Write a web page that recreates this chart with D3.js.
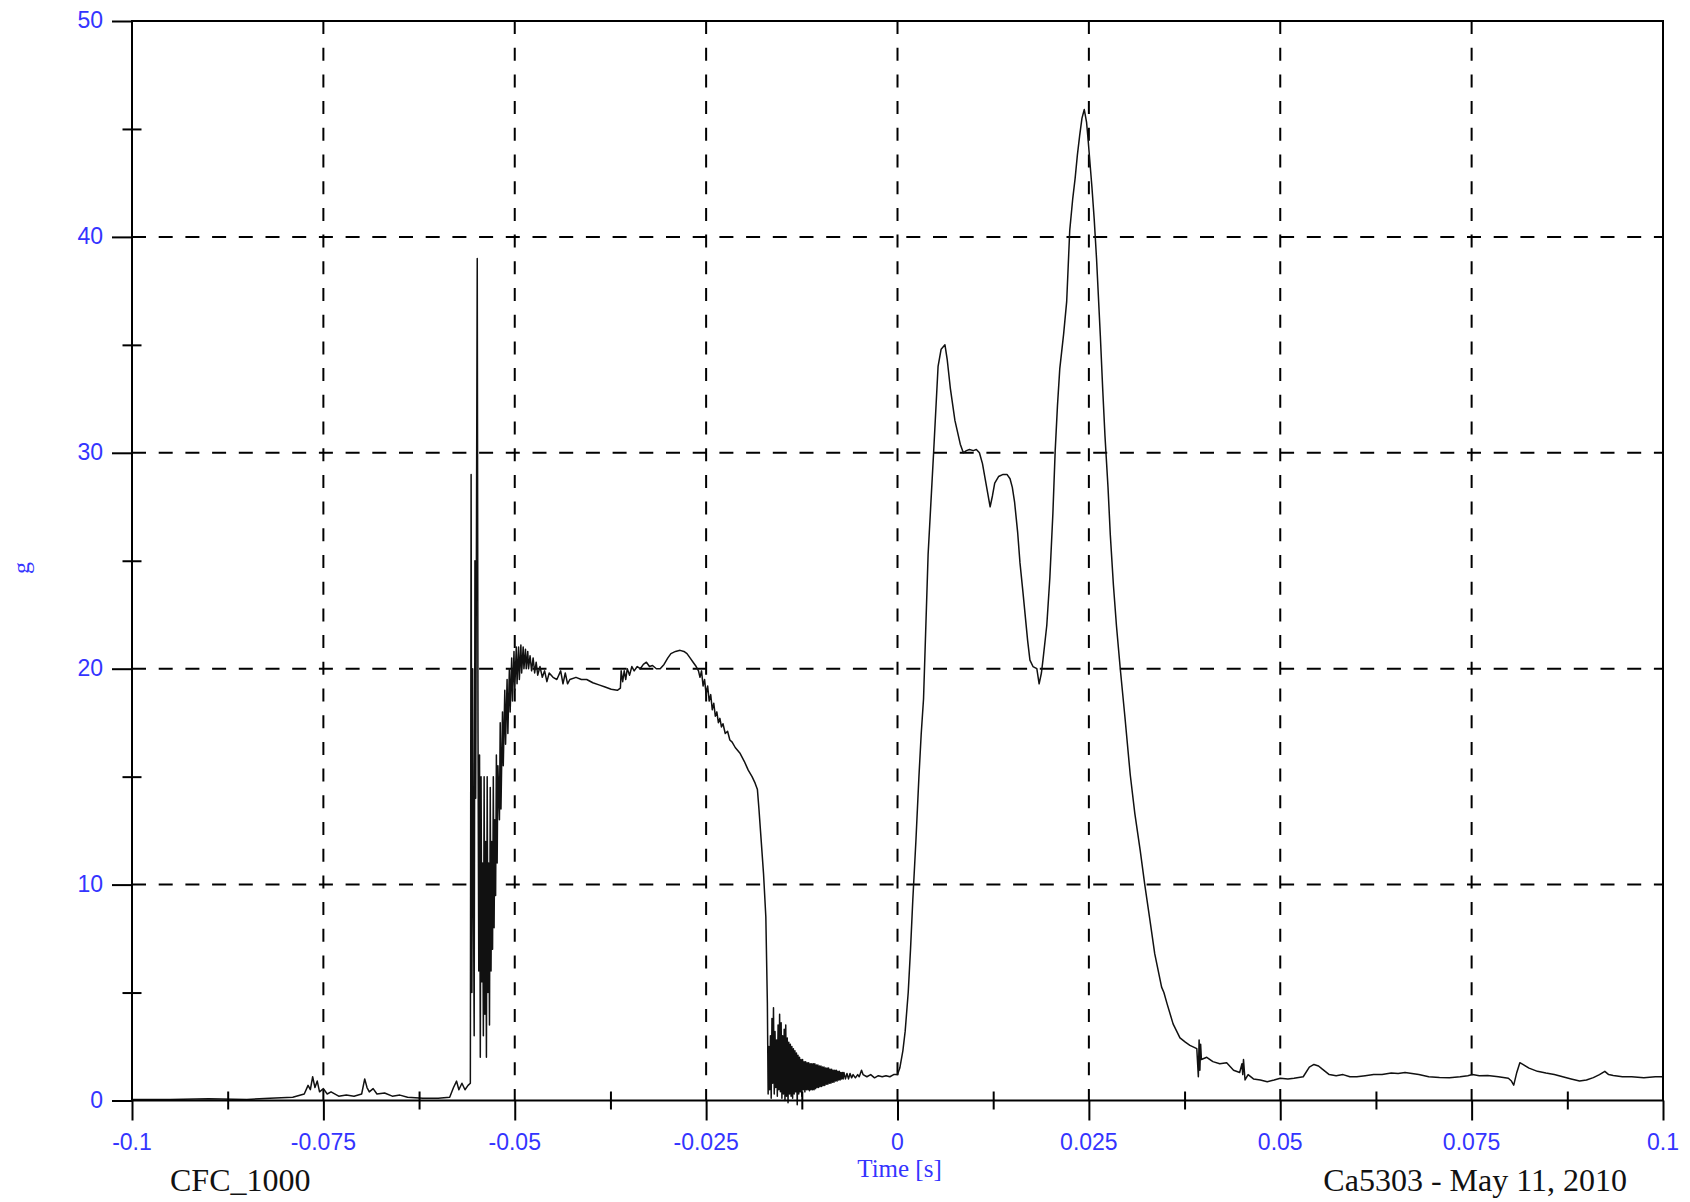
<!DOCTYPE html>
<html>
<head>
<meta charset="utf-8">
<script src="https://cdn.jsdelivr.net/npm/d3@7"></script>
<style>
  html, body { margin: 0; padding: 0; background: #fff; }
  svg { display: block; }
</style>
</head>
<body>
<div id="chart"></div>
<script>
// tick values and labels
var xMajor = [-0.1, -0.075, -0.05, -0.025, 0, 0.025, 0.05, 0.075, 0.1];
var xMajorLabels = ["-0.1", "-0.075", "-0.05", "-0.025", "0", "0.025", "0.05", "0.075", "0.1"];
var xMinor = [-0.0875, -0.0625, -0.0375, -0.0125, 0.0125, 0.0375, 0.0625, 0.0875];
var yMajor = [0, 10, 20, 30, 40, 50];
var yMajorLabels = ["0", "10", "20", "30", "40", "50"];
var yMinor = [5, 15, 25, 35, 45];

// acceleration trace [time s, g] in pieces
var quietStart = [
  [-0.1000, 0.05], [-0.0950, 0.05], [-0.0900, 0.08], [-0.0850, 0.05], [-0.0820, 0.1],
  [-0.0790, 0.15], [-0.0775, 0.3], [-0.0770, 0.7], [-0.0767, 0.5], [-0.0764, 1.1],
  [-0.0761, 0.6], [-0.0758, 0.9], [-0.0755, 0.4], [-0.0750, 0.55], [-0.0745, 0.3],
  [-0.0740, 0.4], [-0.0730, 0.2], [-0.0720, 0.25], [-0.0710, 0.2], [-0.0700, 0.3],
  [-0.0696, 1.0], [-0.0693, 0.6], [-0.0690, 0.4], [-0.0685, 0.55], [-0.0680, 0.3],
  [-0.0670, 0.35], [-0.0660, 0.2], [-0.0650, 0.25], [-0.0640, 0.15], [-0.0620, 0.1],
  [-0.0600, 0.1], [-0.0585, 0.15], [-0.0580, 0.6], [-0.0576, 0.9], [-0.0573, 0.5],
  [-0.0569, 0.8], [-0.0565, 0.5], [-0.0561, 0.7], [-0.0558, 0.8]
];

var spikeBurst = [
  [-0.0557, 29.0], [-0.0556, 5.0], [-0.0555, 20.0], [-0.0554, 10.0], [-0.0553, 3.0],
  [-0.0552, 25.0], [-0.0551, 14.0], [-0.0549, 39.0], [-0.0548, 17.0], [-0.0547, 6.0],
  [-0.0546, 16.0], [-0.0545, 2.0], [-0.0544, 15.0], [-0.0543, 5.5], [-0.0542, 11.0],
  [-0.0541, 3.0], [-0.0540, 15.0], [-0.0539, 4.0], [-0.0538, 12.0], [-0.0537, 2.0],
  [-0.0536, 15.0], [-0.0535, 5.0], [-0.0534, 11.0], [-0.0533, 3.5], [-0.0532, 14.5],
  [-0.0531, 6.0], [-0.0530, 12.0], [-0.0529, 7.0], [-0.0528, 15.0], [-0.0527, 8.0],
  [-0.0526, 13.0], [-0.0525, 9.5], [-0.0524, 16.0], [-0.0523, 11.0], [-0.0522, 15.5],
  [-0.0520, 13.0], [-0.0519, 17.5], [-0.0518, 13.5], [-0.0516, 18.0], [-0.0515, 15.5],
  [-0.0513, 19.0], [-0.0512, 16.5], [-0.0510, 19.5], [-0.0509, 17.0], [-0.0507, 20.0],
  [-0.0506, 18.0], [-0.0504, 20.5], [-0.0503, 18.5], [-0.0501, 20.8], [-0.0500, 19.0],
  [-0.0498, 21.0], [-0.0497, 19.3], [-0.0495, 21.0], [-0.0494, 19.5], [-0.0492, 21.1],
  [-0.0491, 19.8], [-0.0489, 21.0], [-0.0488, 20.0], [-0.0486, 20.9], [-0.0485, 20.0],
  [-0.0483, 20.8], [-0.0482, 20.0], [-0.0480, 20.6], [-0.0478, 19.9], [-0.0476, 20.5],
  [-0.0474, 19.8], [-0.0472, 20.3], [-0.0470, 19.7], [-0.0467, 20.1], [-0.0464, 19.6],
  [-0.0461, 19.9], [-0.0458, 19.4], [-0.0455, 19.8], [-0.0450, 19.6], [-0.0445, 19.5]
];

var plateau = [
  [-0.0440, 19.9], [-0.0437, 19.3], [-0.0434, 19.8], [-0.0431, 19.3], [-0.0428, 19.5],
  [-0.0420, 19.6], [-0.0413, 19.5], [-0.0406, 19.5], [-0.0398, 19.35], [-0.0390, 19.25],
  [-0.0382, 19.15], [-0.0374, 19.05], [-0.0366, 19.0], [-0.0362, 19.1], [-0.0361, 19.9],
  [-0.0359, 19.4], [-0.0357, 19.9], [-0.0355, 19.5], [-0.0353, 20.0], [-0.0350, 19.7],
  [-0.0347, 20.1], [-0.0344, 19.9], [-0.0340, 20.1], [-0.0336, 20.0], [-0.0332, 20.2],
  [-0.0328, 20.3], [-0.0324, 20.1], [-0.0320, 20.15], [-0.0315, 20.0], [-0.0310, 20.0],
  [-0.0305, 20.2], [-0.0300, 20.5], [-0.0296, 20.7], [-0.0290, 20.8], [-0.0284, 20.85],
  [-0.0279, 20.8], [-0.0275, 20.7], [-0.0271, 20.5], [-0.0267, 20.3], [-0.0263, 20.1],
  [-0.0260, 19.9], [-0.0258, 19.6], [-0.0256, 19.9], [-0.0254, 19.2], [-0.0252, 19.5],
  [-0.0250, 18.8], [-0.0248, 19.2], [-0.0246, 18.5], [-0.0244, 18.8], [-0.0242, 18.1],
  [-0.0240, 18.4], [-0.0238, 17.8], [-0.0236, 18.0], [-0.0234, 17.5], [-0.0232, 17.7],
  [-0.0230, 17.3], [-0.0228, 17.45], [-0.0225, 17.0], [-0.0222, 17.1], [-0.0219, 16.7],
  [-0.0216, 16.6], [-0.0212, 16.35], [-0.0206, 16.1], [-0.0200, 15.7], [-0.0195, 15.3],
  [-0.0190, 15.0], [-0.0186, 14.7], [-0.0183, 14.4], [-0.0181, 13.5], [-0.0178, 12.0],
  [-0.0175, 10.5], [-0.0172, 8.5], [-0.0170, 4.5]
];

var ringDown = [
  [-0.0169, 0.3], [-0.0168, 2.5], [-0.0167, 0.5], [-0.0166, 3.0], [-0.0165, 0.1],
  [-0.0164, 3.8], [-0.0163, 0.8], [-0.0162, 4.3], [-0.0161, 0.3], [-0.0160, 3.2],
  [-0.0159, 0.6], [-0.0158, 2.8], [-0.0157, 0.2], [-0.0156, 3.5], [-0.0155, 0.5],
  [-0.0154, 4.0], [-0.0153, 0.4], [-0.0152, 3.6], [-0.0151, 0.1], [-0.0150, 3.0],
  [-0.0149, 0.3], [-0.0148, 3.3], [-0.0147, 0.0], [-0.0146, 3.5], [-0.0145, 0.2],
  [-0.0144, 2.9], [-0.0143, -0.1], [-0.0142, 2.7], [-0.0141, 0.3], [-0.0140, 2.6],
  [-0.0139, 0.2], [-0.0138, 2.5], [-0.0137, 0.1], [-0.0136, 2.4], [-0.0135, 0.3],
  [-0.0134, 2.3], [-0.0133, 0.4], [-0.0132, 2.2], [-0.0131, -0.2], [-0.0130, 2.1],
  [-0.0129, 0.3], [-0.0128, 2.0], [-0.0127, 0.4], [-0.0126, 1.9], [-0.0125, 0.2],
  [-0.0124, 1.9], [-0.0123, 0.5], [-0.0122, 1.8], [-0.0121, 0.4], [-0.0120, 1.8],
  [-0.0119, 0.5], [-0.0118, 1.75], [-0.0117, 0.5], [-0.0116, 1.75], [-0.0115, 0.45],
  [-0.0114, 1.7], [-0.0113, 0.5], [-0.0112, 1.7], [-0.0111, 0.5], [-0.0110, 1.7],
  [-0.0109, 0.5], [-0.0108, 1.7], [-0.0107, 0.55], [-0.0106, 1.65], [-0.0105, 0.6],
  [-0.0104, 1.65], [-0.0103, 0.6], [-0.0102, 1.6], [-0.0101, 0.65], [-0.0100, 1.6],
  [-0.0099, 0.65], [-0.0098, 1.55], [-0.0097, 0.7], [-0.0096, 1.55], [-0.0095, 0.7],
  [-0.0094, 1.5], [-0.0093, 0.75], [-0.0092, 1.5], [-0.0091, 0.75], [-0.0090, 1.5],
  [-0.0089, 0.8], [-0.0088, 1.45], [-0.0087, 0.8], [-0.0086, 1.45], [-0.0085, 0.85],
  [-0.0084, 1.4], [-0.0083, 0.85], [-0.0082, 1.4], [-0.0081, 0.9], [-0.0080, 1.4],
  [-0.0079, 0.9], [-0.0078, 1.35], [-0.0077, 0.95], [-0.0076, 1.35], [-0.0075, 0.95],
  [-0.0074, 1.3], [-0.0073, 1.0], [-0.0072, 1.3], [-0.0071, 1.0], [-0.0070, 1.3],
  [-0.0068, 1.0], [-0.0066, 1.25], [-0.0064, 1.0], [-0.0062, 1.25], [-0.0060, 1.05],
  [-0.0058, 1.2], [-0.0055, 1.05], [-0.0052, 1.2], [-0.0050, 1.1], [-0.0047, 1.4],
  [-0.0045, 1.2], [-0.0040, 1.1], [-0.0035, 1.2], [-0.0030, 1.05], [-0.0025, 1.15],
  [-0.0020, 1.1], [-0.0015, 1.15], [-0.0010, 1.1], [-0.0005, 1.2]
];

var mainPulse = [
  [0.0000, 1.2], [0.0003, 1.5], [0.0007, 2.3], [0.0010, 3.2], [0.0014, 5.0],
  [0.0017, 7.0], [0.0020, 9.3], [0.0024, 12.0], [0.0028, 15.0], [0.0031, 17.0],
  [0.0034, 18.6], [0.0040, 25.3], [0.0047, 29.9], [0.0053, 34.0], [0.0057, 34.8],
  [0.0062, 35.0], [0.0065, 34.3], [0.0069, 33.0], [0.0075, 31.5], [0.0082, 30.4],
  [0.0086, 30.0], [0.0090, 30.1], [0.0094, 30.15], [0.0099, 30.1], [0.0103, 30.15],
  [0.0107, 30.0], [0.0111, 29.5], [0.0114, 28.9], [0.0118, 28.1], [0.0121, 27.5],
  [0.0124, 28.0], [0.0127, 28.6], [0.0132, 28.9], [0.0138, 29.0], [0.0143, 29.0],
  [0.0147, 28.8], [0.0150, 28.4], [0.0153, 27.7], [0.0157, 26.3], [0.0160, 24.9],
  [0.0164, 23.5], [0.0167, 22.4], [0.0170, 21.3], [0.0173, 20.4], [0.0177, 20.1],
  [0.0182, 20.0], [0.0185, 19.3], [0.0188, 19.8], [0.0190, 20.4], [0.0195, 22.0],
  [0.0199, 24.2], [0.0203, 27.2], [0.0206, 30.1], [0.0209, 32.2], [0.0212, 33.9],
  [0.0217, 35.5], [0.0221, 37.0], [0.0225, 40.3], [0.0229, 41.8], [0.0232, 42.7],
  [0.0235, 43.8], [0.0238, 44.7], [0.0241, 45.5], [0.0244, 45.9], [0.0247, 45.3],
  [0.0249, 44.5], [0.0254, 42.3], [0.0257, 40.8], [0.0260, 39.0], [0.0265, 35.4],
  [0.0268, 33.0], [0.0271, 30.8], [0.0275, 28.4], [0.0278, 26.2], [0.0282, 23.9],
  [0.0286, 22.0], [0.0291, 20.0], [0.0297, 17.8], [0.0304, 15.1], [0.0310, 13.3],
  [0.0317, 11.6], [0.0323, 10.0], [0.0330, 8.3], [0.0336, 6.8], [0.0345, 5.25],
  [0.0348, 5.0], [0.0352, 4.5], [0.0360, 3.55], [0.0369, 2.9], [0.0376, 2.7],
  [0.0382, 2.55], [0.0391, 2.4]
];

var tail = [
  [0.0393, 1.1], [0.0394, 2.8], [0.0395, 1.4], [0.0396, 2.6], [0.0397, 1.9],
  [0.0404, 2.0], [0.0412, 1.8], [0.0421, 1.7], [0.0430, 1.75], [0.0439, 1.4],
  [0.0447, 1.3], [0.0450, 1.7], [0.0451, 1.2], [0.0452, 1.9], [0.0454, 0.95],
  [0.0458, 1.2], [0.0465, 1.0], [0.0474, 0.95], [0.0483, 0.87], [0.0492, 0.95],
  [0.0500, 1.03], [0.0510, 1.0], [0.0518, 1.03], [0.0530, 1.1], [0.0538, 1.55],
  [0.0544, 1.67], [0.0550, 1.6], [0.0555, 1.45], [0.0564, 1.2], [0.0573, 1.15],
  [0.0582, 1.2], [0.0591, 1.1], [0.0600, 1.1], [0.0611, 1.15], [0.0622, 1.2],
  [0.0633, 1.2], [0.0645, 1.27], [0.0654, 1.25], [0.0663, 1.3], [0.0672, 1.25],
  [0.0681, 1.2], [0.0694, 1.1], [0.0708, 1.06], [0.0721, 1.05], [0.0735, 1.1],
  [0.0745, 1.15], [0.0751, 1.2], [0.0760, 1.15], [0.0771, 1.16], [0.0785, 1.1],
  [0.0798, 1.03], [0.0802, 0.9], [0.0805, 0.71], [0.0809, 1.3], [0.0813, 1.75],
  [0.0818, 1.65], [0.0825, 1.5], [0.0836, 1.35], [0.0847, 1.27], [0.0858, 1.2],
  [0.0869, 1.1], [0.0880, 1.0], [0.0891, 0.9], [0.0900, 0.95], [0.0909, 1.06],
  [0.0917, 1.2], [0.0924, 1.35], [0.0929, 1.2], [0.0935, 1.16], [0.0947, 1.1],
  [0.0959, 1.1], [0.0975, 1.05], [0.0990, 1.1], [0.1000, 1.1]
];

var footLeft = "CFC_1000";
var footRight = "Ca5303 - May 11, 2010";
var xTitle = "Time [s]";
var yTitle = "g";

var width = 1690, height = 1202;
var plot = {left: 132, right: 1663, top: 21, bottom: 1100.5};
var tickBlue = "#3434ff";

var svg = d3.select("#chart")
    .append("svg")
    .attr("width", width)
    .attr("height", height);

var x = d3.scaleLinear().domain([-0.1, 0.1]).range([plot.left, plot.right]);
var y = d3.scaleLinear().domain([0, 50]).range([plot.bottom, plot.top]);

// dashed grid
svg.append("g")
  .selectAll("line")
  .data(yMajor.filter(function(v) { return v > 0 && v < 50; }))
  .enter().append("line")
    .attr("x1", plot.left).attr("x2", plot.right)
    .attr("y1", function(d) { return y(d); })
    .attr("y2", function(d) { return y(d); })
    .attr("stroke", "#000")
    .attr("stroke-width", 2)
    .attr("stroke-dasharray", "14,12.7");

svg.append("g")
  .selectAll("line")
  .data(xMajor.filter(function(v) { return v > -0.1 && v < 0.1; }))
  .enter().append("line")
    .attr("x1", function(d) { return x(d); })
    .attr("x2", function(d) { return x(d); })
    .attr("y1", plot.top).attr("y2", plot.bottom)
    .attr("stroke", "#000")
    .attr("stroke-width", 2)
    .attr("stroke-dasharray", "13,13.7");

// the trace
var trace = quietStart.concat(spikeBurst, plateau, ringDown, mainPulse, tail);

svg.append("clipPath").attr("id", "clip")
  .append("rect")
    .attr("x", plot.left).attr("y", plot.top)
    .attr("width", plot.right - plot.left)
    .attr("height", plot.bottom - plot.top + 8);

var line = d3.line()
    .x(function(d) { return x(d[0]); })
    .y(function(d) { return y(d[1]); });

svg.append("path")
    .datum(trace)
    .attr("clip-path", "url(#clip)")
    .attr("fill", "none")
    .attr("stroke", "#111")
    .attr("stroke-width", 1.5)
    .attr("stroke-linejoin", "round")
    .attr("d", line);

// frame
svg.append("rect")
    .attr("x", plot.left).attr("y", plot.top)
    .attr("width", plot.right - plot.left)
    .attr("height", plot.bottom - plot.top)
    .attr("fill", "none")
    .attr("stroke", "#000")
    .attr("stroke-width", 2);

// ticks through d3 axes (no domain path, no labels)
function ticksOnly(g) {
  g.select(".domain").remove();
  g.selectAll("text").remove();
  g.selectAll("line").attr("stroke", "#000").attr("stroke-width", 2);
}

svg.append("g")
  .attr("transform", "translate(0," + plot.bottom + ")")
  .call(d3.axisBottom(x).tickValues(xMajor).tickSize(20).tickFormat(""))
  .call(ticksOnly);
svg.append("g")
  .attr("transform", "translate(0," + plot.bottom + ")")
  .call(d3.axisBottom(x).tickValues(xMinor).tickSize(9).tickFormat(""))
  .call(ticksOnly);
svg.append("g")
  .attr("transform", "translate(0," + plot.bottom + ")")
  .call(d3.axisTop(x).tickValues(xMinor).tickSize(9).tickFormat(""))
  .call(ticksOnly);

svg.append("g")
  .attr("transform", "translate(" + plot.left + ",0)")
  .call(d3.axisLeft(y).tickValues(yMajor).tickSize(20).tickFormat(""))
  .call(ticksOnly);
svg.append("g")
  .attr("transform", "translate(" + plot.left + ",0)")
  .call(d3.axisLeft(y).tickValues(yMinor).tickSize(9.5).tickFormat(""))
  .call(ticksOnly);
svg.append("g")
  .attr("transform", "translate(" + plot.left + ",0)")
  .call(d3.axisRight(y).tickValues(yMinor).tickSize(9.5).tickFormat(""))
  .call(ticksOnly);

// tick labels
svg.append("g")
  .selectAll("text")
  .data(xMajor)
  .enter().append("text")
    .attr("x", function(d) { return x(d); })
    .attr("y", 1150)
    .attr("text-anchor", "middle")
    .attr("font-family", "'Liberation Sans', Arial, sans-serif")
    .attr("font-size", 23)
    .attr("fill", tickBlue)
    .text(function(d, i) { return xMajorLabels[i]; });

svg.append("g")
  .selectAll("text")
  .data(yMajor)
  .enter().append("text")
    .attr("x", 103)
    .attr("y", function(d) { return y(d) + 7; })
    .attr("text-anchor", "end")
    .attr("font-family", "'Liberation Sans', Arial, sans-serif")
    .attr("font-size", 23)
    .attr("fill", tickBlue)
    .text(function(d, i) { return yMajorLabels[i]; });

// titles
svg.append("text")
    .attr("x", x(0) + 2)
    .attr("y", 1177)
    .attr("text-anchor", "middle")
    .attr("font-family", "'Liberation Serif', 'Times New Roman', serif")
    .attr("font-size", 25)
    .attr("fill", tickBlue)
    .text(xTitle);

svg.append("text")
    .attr("transform", "translate(29,568) rotate(-90)")
    .attr("text-anchor", "middle")
    .attr("font-family", "'Liberation Serif', 'Times New Roman', serif")
    .attr("font-size", 24)
    .attr("fill", tickBlue)
    .text(yTitle);

svg.append("text")
    .attr("x", 170)
    .attr("y", 1191)
    .attr("font-family", "'Liberation Serif', 'Times New Roman', serif")
    .attr("font-size", 32)
    .attr("fill", "#111")
    .text(footLeft);

svg.append("text")
    .attr("x", 1627)
    .attr("y", 1191)
    .attr("text-anchor", "end")
    .attr("font-family", "'Liberation Serif', 'Times New Roman', serif")
    .attr("font-size", 32)
    .attr("fill", "#111")
    .text(footRight);
</script>
</body>
</html>
